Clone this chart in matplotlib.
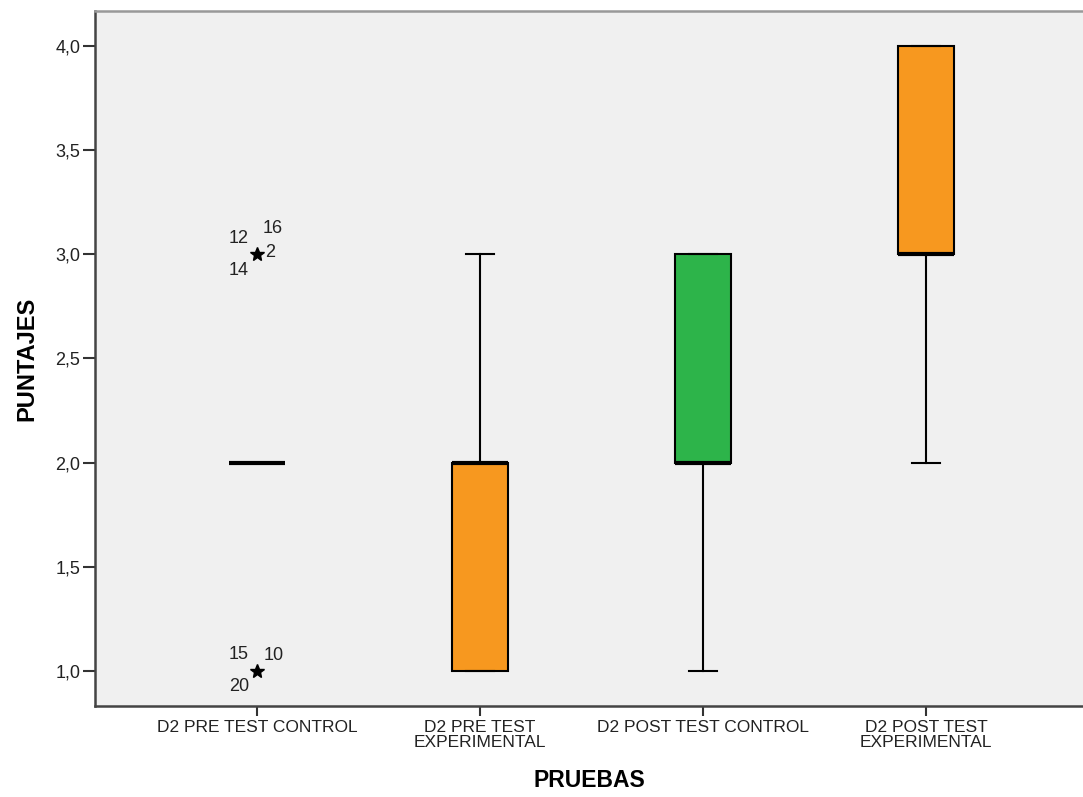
import matplotlib.pyplot as plt

# datos del boxplot (SPSS)
pruebas = ['D2 PRE TEST CONTROL', 'D2 PRE TEST\nEXPERIMENTAL',
           'D2 POST TEST CONTROL', 'D2 POST TEST\nEXPERIMENTAL']
q1 = [2.0, 1.0, 2.0, 3.0]
mediana = [2.0, 2.0, 2.0, 3.0]
q3 = [2.0, 2.0, 3.0, 4.0]
bigote_inf = [2.0, 1.0, 1.0, 2.0]
bigote_sup = [2.0, 3.0, 3.0, 4.0]
colores = ['#f7981f', '#f7981f', '#2db44a', '#f7981f']

# valores extremos del primer grupo
extremos_y = [3.0, 1.0]
extremos_casos = [['12', '16', '2', '14'], ['15', '10', '20']]
offsets = [[(-18, 16), (16, 26), (13, 2), (-18, -16)],
           [(-18, 16), (17, 15), (-18, -16)]]

plt.rcParams['font.family'] = ['Liberation Sans', 'DejaVu Sans']

fig = plt.figure(figsize=(10.83, 7.97), dpi=100)
ax = fig.add_axes([0.0877, 0.1142, 0.9123, 0.872])
ax.set_facecolor('#f0f0f0')

stats = []
for i in range(len(pruebas)):
    stats.append({'q1': q1[i], 'med': mediana[i], 'q3': q3[i],
                  'whislo': bigote_inf[i], 'whishi': bigote_sup[i], 'fliers': []})

pos = list(range(1, len(pruebas) + 1))
bp = ax.bxp(stats, positions=pos, widths=0.251, patch_artist=True, showfliers=False,
            capwidths=0.125,
            boxprops=dict(edgecolor='black', linewidth=1.5),
            medianprops=dict(color='black', linewidth=3),
            whiskerprops=dict(color='black', linewidth=1.5),
            capprops=dict(color='black', linewidth=1.5))
for patch, c in zip(bp['boxes'], colores):
    patch.set_facecolor(c)

for y, casos, offs in zip(extremos_y, extremos_casos, offsets):
    ax.plot(1, y, marker='*', color='black', markersize=10, linestyle='none')
    for caso, (dx, dy) in zip(casos, offs):
        ax.annotate(caso, (1, y), xytext=(dx * 0.72, dy * 0.72), textcoords='offset points',
                    ha='center', va='center', fontsize=13, color='#222222')

ax.set_xlim(0.2735, 4.704)
ax.set_ylim(0.832, 4.168)
ax.set_yticks([1.0, 1.5, 2.0, 2.5, 3.0, 3.5, 4.0])
ax.set_yticklabels(['1,0', '1,5', '2,0', '2,5', '3,0', '3,5', '4,0'], fontsize=13, color='#222222')
ax.set_xticks(pos)
ax.set_xticklabels(pruebas, fontsize=12.5, linespacing=1.0, color='#222222')
ax.tick_params(axis='y', length=8.5, width=1.5, color='#333333', pad=2)
ax.tick_params(axis='x', length=7, width=1.5, color='#333333', pad=3)

for s in ['left', 'bottom']:
    ax.spines[s].set_color('#444444')
    ax.spines[s].set_linewidth(1.8)
ax.spines['top'].set_color('#999999')
ax.spines['top'].set_linewidth(1.8)
ax.spines['right'].set_visible(False)

ax.set_xlabel('PRUEBAS', fontsize=16.5, fontweight='bold', labelpad=14)
ax.set_ylabel('PUNTAJES', fontsize=17, fontweight='bold', labelpad=12)

plt.savefig('out.png', dpi=100)
